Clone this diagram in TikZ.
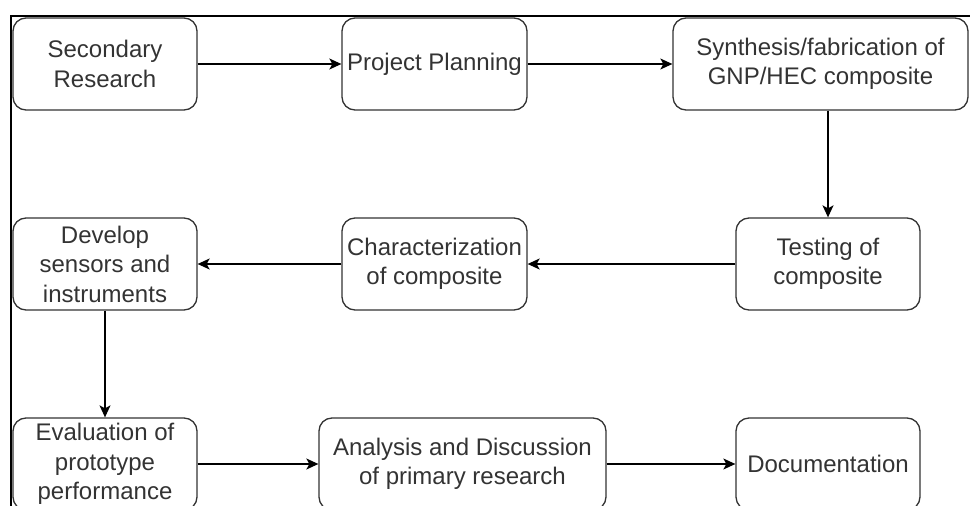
\documentclass[tikz,border=0pt]{standalone}
\usepackage{fontspec}
\setmainfont{Liberation Sans}
\usepackage{xcolor}
\usepackage{tikz}
\usetikzlibrary{arrows.meta,positioning}
\definecolor{boxgray}{HTML}{333333}

\begin{document}
\begin{tikzpicture}[x=1pt, y=-1pt,
  stepbox/.style={draw=boxgray, line width=1.3pt, rounded corners=13pt, minimum width=184pt, minimum height=92pt, inner sep=0pt, align=center, text=boxgray, font=\fontsize{24}{29.5}\selectfont},
  flow/.style={line width=1.3pt, -{Stealth[length=12pt, width=11pt, inset=3pt]}}]
\useasboundingbox (0,0) rectangle (970,506);

%frame
\draw[line width=2pt] (11,506) -- (11,16) -- (970,16);

%row 1
\node[stepbox] (second) at (105, 64) {Secondary\\Research};
\node[stepbox, minimum width=185pt] (plan) at (434.5, 64) {Project Planning};
\node[stepbox, minimum width=295pt] (synth) at (820.5, 64) {Synthesis/fabrication of\\GNP/HEC composite};

%row 2
\node[stepbox] (test) at (828, 264) {Testing of\\composite};
\node[stepbox, minimum width=185pt] (charac) at (434.5, 264) {Characterization\\of composite};
\node[stepbox] (develop) at (105, 264) {Develop\\sensors and\\instruments};

%row 3
\node[stepbox] (eval) at (105, 464) {Evaluation of\\prototype\\performance};
\node[stepbox, minimum width=287pt] (analysis) at (462.5, 464) {Analysis and Discussion\\of primary research};
\node[stepbox] (docu) at (828, 464) {Documentation};

%arrows
\draw[flow] (second) -- (plan);
\draw[flow] (plan) -- (synth);
\draw[flow] (test.north |- synth.south) -- (test.north);
\draw[flow] (test) -- (charac);
\draw[flow] (charac) -- (develop);
\draw[flow] (develop) -- (eval);
\draw[flow] (eval) -- (analysis);
\draw[flow] (analysis) -- (docu);
\end{tikzpicture}
\end{document}
